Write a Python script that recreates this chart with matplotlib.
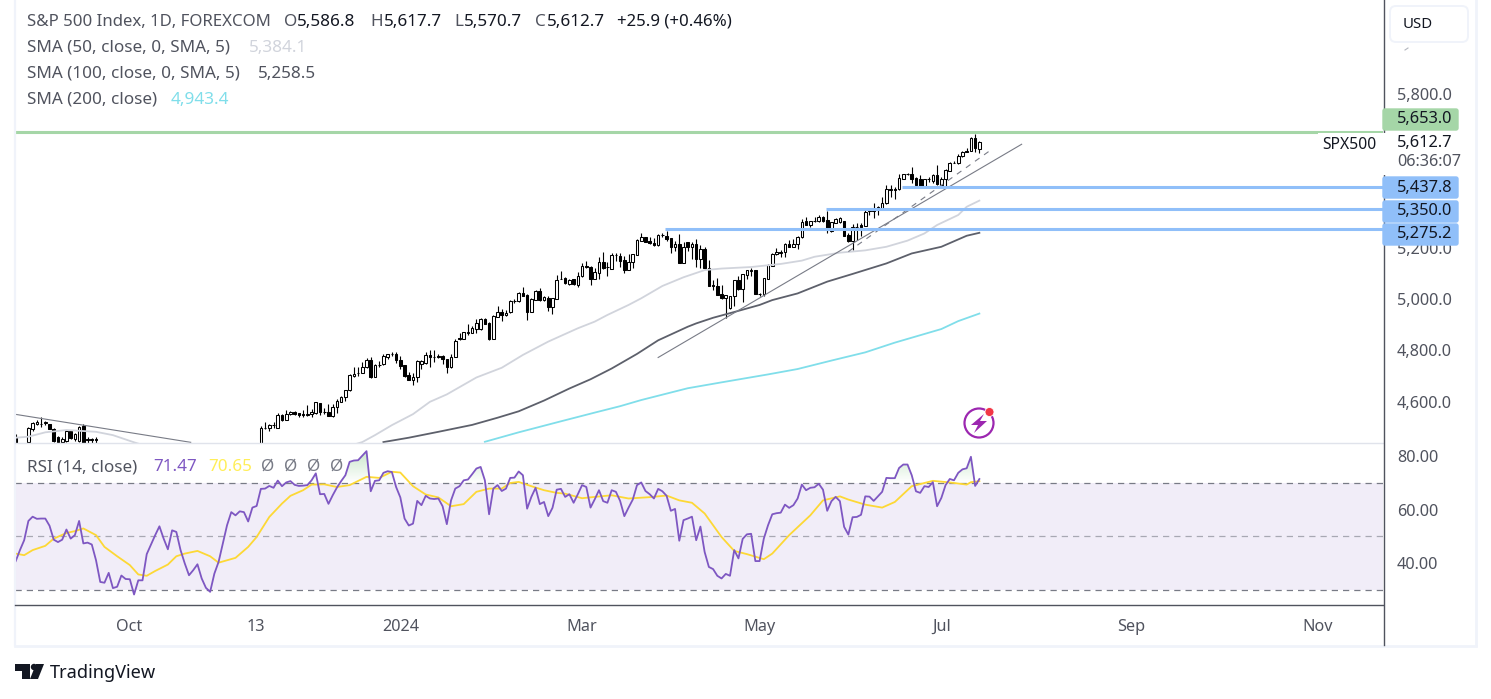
import numpy as np
import matplotlib
matplotlib.use("Agg")
import matplotlib.pyplot as plt
from matplotlib.lines import Line2D
from matplotlib.patches import Circle, FancyBboxPatch, Polygon, Rectangle
from matplotlib.path import Path
from matplotlib.transforms import Affine2D

plt.rcParams['font.family'] = ['Noto Sans', 'DejaVu Sans']

W, H = 1491, 699

# candles visible at the far left, the rest of that stretch is under the pane
left_bars = [0, 3, 4, 5, 6, 7, 8, 9, 10, 11, 12, 13, 14, 15, 16, 17, 18, 19]
left_open = [4459, 4440, 4489, 4507, 4507, 4514, 4507, 4489, 4456, 4440, 4442, 4481, 4450, 4442, 4502, 4449, 4449, 4449]
left_high = [4468, 4497, 4518, 4523, 4535, 4521, 4510, 4494, 4463, 4459, 4484, 4484, 4472, 4502, 4507, 4459, 4455, 4456]
left_low = [4420, 4425, 4481, 4505, 4497, 4505, 4488, 4437, 4437, 4436, 4440, 4450, 4442, 4440, 4427, 4429, 4429, 4429]
left_close = [4425, 4494, 4511, 4518, 4510, 4515, 4489, 4442, 4440, 4450, 4481, 4453, 4468, 4498, 4429, 4448, 4448, 4448]

# daily candles from mid Nov 2023 on
first_bar = 58
opens = [4433.5, 4492, 4491, 4504, 4491, 4543, 4526, 4547, 4556, 4552, 4547, 4545, 4547, 4553, 4589, 4557, 4557, 4540, 4574, 4596,
         4613, 4640, 4697, 4708, 4709, 4730, 4758, 4693, 4739, 4742, 4771, 4781, 4782, 4757, 4738, 4700, 4682, 4690, 4744, 4745,
         4777, 4770, 4773, 4774, 4761, 4729, 4771, 4843, 4842, 4865, 4864, 4881, 4878, 4918, 4903, 4842, 4927, 4946, 4933, 4944,
         4987, 4987, 5018, 5011, 4947, 4992, 5026, 4991, 5002, 4965, 4998, 5074, 5077, 5055, 5073, 5052, 5085, 5125, 5120, 5074,
         5099, 5142, 5120, 5115, 5167, 5163, 5147, 5111, 5142, 5169, 5224, 5238,
         5224, 5216, 5206, 5244, 5242, 5233, 5201, 5211, 5138, 5217, 5201, 5210, 5151, 5190, 5116, 5051, 5047, 5015, 5002, 4960,
         5006, 5069, 5037, 5091, 5107, 5108, 5016, 5016, 5076, 5126, 5171, 5177, 5179, 5210, 5201, 5211, 5237, 5299, 5284, 5301,
         5302, 5315, 5305, 5263, 5294, 5295, 5299, 5246, 5224, 5277, 5284, 5281, 5342, 5342, 5344, 5353, 5370, 5423, 5424, 5424,
         5465, 5483, 5484, 5467, 5463, 5438, 5465, 5457, 5480, 5442, 5463, 5497, 5527, 5526, 5553, 5575, 5574, 5623, 5586.8]
highs = [4502, 4518, 4509, 4515, 4552, 4547, 4562, 4558, 4558, 4553, 4564, 4582, 4567, 4593, 4589, 4569, 4587, 4587, 4605, 4618,
         4640, 4703, 4731, 4730, 4749, 4765, 4771, 4742, 4753, 4781, 4782, 4790, 4788, 4773, 4740, 4713, 4707, 4757, 4758, 4788,
         4796, 4797, 4782, 4777, 4762, 4781, 4840, 4865, 4869, 4899, 4892, 4920, 4922, 4922, 4907, 4934, 4969, 4956, 4953, 4992,
         4996, 5022, 5042, 5016, 4999, 5032, 5038, 5008, 5006, 5002, 5089, 5104, 5081, 5074, 5076, 5102, 5138, 5146, 5125, 5119,
         5159, 5181, 5142, 5175, 5175, 5177, 5164, 5172, 5172, 5229, 5252, 5240,
         5240, 5233, 5249, 5255, 5262, 5236, 5224, 5250, 5220, 5219, 5220, 5231, 5207, 5198, 5149, 5071, 5077, 5051, 5012, 5009,
         5071, 5087, 5093, 5110, 5116, 5110, 5021, 5080, 5134, 5175, 5194, 5188, 5216, 5227, 5231, 5242, 5307, 5318, 5301, 5318,
         5324, 5320, 5341, 5298, 5312, 5315, 5301, 5253, 5288, 5292, 5294, 5350, 5350, 5370, 5359, 5396, 5441, 5440, 5435, 5484,
         5484, 5487, 5511, 5471, 5480, 5466, 5474, 5483, 5519, 5471, 5502, 5531, 5533, 5562, 5575, 5584, 5627, 5640, 5617.7]
lows = [4420.5, 4489, 4483, 4494, 4491, 4522, 4524, 4544, 4544, 4537, 4534, 4540, 4537, 4549, 4544, 4547, 4540, 4537, 4553, 4593,
        4599, 4638, 4690, 4697, 4706, 4726, 4687, 4692, 4732, 4740, 4761, 4774, 4745, 4722, 4693, 4681, 4660, 4674, 4725, 4743,
        4732, 4751, 4765, 4743, 4709, 4727, 4770, 4836, 4840, 4856, 4862, 4865, 4875, 4899, 4838, 4842, 4925, 4912, 4930, 4943,
        4982, 4986, 5008, 4914, 4946, 4991, 4989, 4989, 4950, 4939, 4995, 5073, 5055, 5052, 5050, 5044, 5081, 5116, 5051, 5073,
        5074, 5112, 5087, 5112, 5146, 5122, 5099, 5110, 5119, 5167, 5223, 5219,
        5211, 5203, 5204, 5240, 5224, 5177, 5184, 5138, 5138, 5185, 5154, 5123, 5116, 5114, 5047, 5032, 5011, 4996, 4921, 4957,
        4970, 5032, 4986, 5073, 5086, 5017, 5006, 5008, 5074, 5125, 5169, 5159, 5162, 5199, 5199, 5190, 5236, 5284, 5279, 5298,
        5298, 5298, 5253, 5256, 5292, 5292, 5242, 5220, 5188, 5227, 5243, 5281, 5324, 5314, 5324, 5350, 5368, 5396, 5387, 5423,
        5463, 5480, 5448, 5440, 5437, 5437, 5454, 5448, 5441, 5440, 5435, 5496, 5526, 5524, 5552, 5568, 5572, 5570, 5570.7]
closes = [4492, 4493, 4506, 4505, 4544, 4525, 4547, 4554, 4547, 4543, 4545, 4547, 4556, 4593, 4557, 4556, 4541, 4574, 4597, 4614,
          4640, 4699, 4705, 4709, 4730, 4758, 4692, 4739, 4740, 4774, 4781, 4782, 4757, 4736, 4697, 4682, 4690, 4755, 4755, 4778,
          4769, 4769, 4771, 4761, 4729, 4771, 4833, 4839, 4866, 4866, 4882, 4901, 4917, 4900, 4839, 4930, 4944, 4933, 4943, 4989,
          4989, 5020, 5009, 4947, 4995, 5028, 4991, 5003, 4965, 4999, 5072, 5076, 5057, 5072, 5054, 5085, 5125, 5120, 5074, 5100,
          5142, 5119, 5121, 5167, 5168, 5145, 5110, 5142, 5172, 5225, 5237, 5220,
          5214, 5205, 5247, 5245, 5231, 5201, 5210, 5138, 5199, 5199, 5211, 5151, 5190, 5116, 5048, 5046, 5013, 5000, 5010, 5007,
          5069, 5037, 5093, 5108, 5108, 5017, 5017, 5077, 5128, 5171, 5179, 5179, 5210, 5201, 5212, 5237, 5298, 5285, 5299, 5302,
          5316, 5301, 5266, 5295, 5310, 5314, 5243, 5224, 5279, 5279, 5279, 5337, 5341, 5341, 5354, 5370, 5424, 5424, 5423, 5467,
          5483, 5484, 5466, 5442, 5438, 5463, 5463, 5479, 5444, 5465, 5498, 5527, 5528, 5554, 5570, 5570, 5623, 5587, 5612.7]

sma50_bars = [0, 3, 7, 12, 19, 23, 28, 55, 82, 85, 89, 94, 98, 102, 109, 115, 120, 126, 133, 137, 140, 145, 148, 153, 158, 163, 167,
              174, 181, 186, 189, 195, 201, 206, 211, 215, 218, 223, 225, 228]
sma50_vals = [4455, 4459, 4476, 4485, 4478, 4465, 4437, 4300, 4438, 4465, 4504, 4547, 4595, 4624, 4690, 4728, 4778, 4830, 4882, 4908,
              4934, 4973, 4999, 5047, 5081, 5109, 5115, 5121, 5133, 5146, 5161, 5177, 5186, 5200, 5224, 5252, 5285, 5324, 5356, 5384.1]
sma100_bars = [87, 93, 100, 108, 114, 119, 125, 131, 136, 141, 147, 152, 159, 161, 165, 171, 176, 179, 185, 192, 198, 206, 212, 219, 225, 228]
sma100_vals = [4438, 4455, 4478, 4505, 4533, 4558, 4600, 4647, 4683, 4725, 4782, 4835, 4888, 4901, 4923, 4950, 4973, 4992, 5018, 5064,
               5094, 5135, 5174, 5200, 5243, 5258.5]
sma200_bars = [111, 119, 129, 137, 143, 148, 159, 167, 178, 185, 193, 201, 208, 219, 223, 228]
sma200_vals = [4439, 4476, 4519, 4553, 4578, 4602, 4648, 4671, 4702, 4723, 4756, 4788, 4826, 4879, 4910, 4943.4]

rsi_vals = [40.8, 44.9, 48.6, 55.8, 57.4, 56.6, 56.7, 56.7, 54.0, 48.8, 47.9, 48.8, 52.6, 49.2, 50.5, 55.8, 47.4, 47.7, 47.0, 41.1,
            33.0, 32.7, 36.4, 30.7, 31.2, 35.4, 34.1, 34.0, 28.3, 33.6, 33.6, 43.4, 47.0, 50.5, 53.8, 49.2, 45.2, 52.3, 51.7, 44.9,
            39.9, 35.5, 37.4, 39.6, 34.3, 30.8, 29.3, 36.1, 40.5, 47.4, 54.2, 59.1, 57.9, 59.4, 59.1, 55.6, 60.8, 61.4, 67.8, 67.9,
            68.9, 68.2, 70.9, 68.8, 70.2, 70.7, 69.3, 68.9, 69.0, 69.2, 71.0, 73.6, 65.8, 65.9, 62.2, 65.4, 68.3, 70.7, 72.9, 77.9,
            78.4, 78.5, 80.2, 81.9, 66.9, 70.8, 71.0, 73.8, 74.4, 74.1, 68.5, 64.6, 56.7, 54.1, 54.8, 63.3, 61.7, 65.2, 64.2, 64.0,
            64.2, 61.3, 54.6, 63.5, 67.9, 68.8, 71.0, 71.3, 73.3, 75.4, 76.0, 71.0, 58.3, 67.9, 69.2,
            67.0, 67.9, 71.9, 72.0, 74.3, 72.9, 60.4, 64.8, 68.2, 62.1, 62.9, 57.6, 60.7, 67.5, 67.8, 64.8, 65.8, 62.6, 65.8, 69.2,
            68.5, 60.8, 63.9, 67.3, 63.2, 62.6, 67.3, 66.7, 63.3, 57.6, 60.8, 63.8, 69.2, 70.2, 67.0, 65.8, 64.2, 67.8, 66.9, 65.2,
            59.6, 60.3, 48.4, 56.1, 56.7, 57.4, 48.6, 53.7, 44.2, 38.6, 37.8, 35.3, 34.3, 36.0, 35.3, 44.9, 41.8, 49.1, 50.8, 51.0,
            40.8, 40.8, 49.2, 54.2, 58.3, 58.7, 58.9, 61.9, 60.7, 61.7, 64.2, 69.4, 67.3, 68.2, 68.4, 69.7, 67.5, 59.6, 63.2, 64.8,
            63.2, 53.6, 50.7, 57.2, 57.3, 58.1, 65.0, 64.9, 63.3, 65.0, 66.7, 71.9, 71.8, 71.8, 75.6, 76.9, 76.9, 72.9, 66.9, 66.3,
            68.8, 68.5, 70.3, 61.3, 64.4, 69.2, 71.5, 71.0, 73.8, 75.1, 75.5, 79.8, 68.9, 71.47]
rsi_ma_bars = [0, 2, 4, 7, 9, 12, 14, 16, 19, 21, 24, 27, 29, 31, 33, 36, 38, 40, 43, 46, 48, 52, 55, 57, 60, 63, 65, 68, 70, 73, 76, 79,
               83, 86, 89, 91, 94, 97, 100, 103, 106, 109, 112, 115, 117, 119, 122, 125, 128, 130, 134, 137, 141, 145, 150, 154, 157,
               160, 163, 167, 170, 173, 177, 179, 183, 188, 191, 195, 197, 201, 205, 208, 212, 217, 221, 225, 226, 228]
rsi_ma_vals = [43.6, 43.0, 44.9, 46.5, 49.2, 51.3, 52.0, 53.0, 50.5, 46.1, 42.6, 39.3, 35.8, 35.3, 37.1, 39.5, 42.6, 43.6, 44.6, 42.6,
               40.2, 42.0, 46.1, 49.8, 57.3, 62.3, 65.2, 67.3, 69.4, 69.5, 68.5, 69.2, 72.3, 71.9, 74.2, 73.9, 68.8, 65.7, 64.6, 61.3,
               62.1, 66.7, 67.9, 67.9, 70.0, 70.4, 68.8, 67.3, 66.3, 66.0, 64.3, 64.8, 65.4, 64.2, 64.7, 65.3, 63.5, 62.6, 58.6, 49.8,
               44.6, 43.4, 41.5, 43.6, 50.5, 57.9, 63.5, 65.0, 63.8, 61.9, 60.8, 62.9, 68.8, 70.8, 70.2, 69.4, 70.3, 70.65]

level_prices = [5437.8, 5350.0, 5275.2]
level_starts = [209.6, 191.7, 153.6]
resistance = 5653.0

# trend lines as (bar, price) ends
trend_down = ([0, 41.4], [4546, 4437])
trend_up = ([152, 238], [4768, 5600])
trend_dash = ([197, 231], [5181, 5581])

month_ticks = [26.8, 56.9, 91, 134, 176, 219, 264, 308]
month_labels = ['Oct', '13', '2024', 'Mar', 'May', 'Jul', 'Sep', 'Nov']
price_ticks = [4600, 4800, 5000, 5200, 5800]
rsi_ticks = [40, 60, 80]

GREY = '#50535e'
DARK = '#131722'
BLUE = '#90bff9'
GREEN = '#a5d6a7'
PANE = '#e0e3eb'
XLIM = (-0.17, 323.5)
AXIS_SIZE = 11.7
LEGEND_SIZE = 12.3
# values above were read against the label centres, which sit about 1px above the true level
READ_SHIFT = 4

# pixel coordinates, origin top left, for the furniture around the panes
px = Affine2D().scale(1, -1).translate(0, H)

fig = plt.figure(figsize=(W / 100, H / 100), dpi=100, facecolor='white')
ax = fig.add_axes([15 / W, 1 - 442.5 / H, 1368 / W, 442.5 / H])
ax_rsi = fig.add_axes([15 / W, 1 - 604 / H, 1368 / W, 161 / H])


def label(x, y, s, color=GREY, size=LEGEND_SIZE, ha='left', z=8, **kw):
    fig.text(x, y, s, color=color, fontsize=size, ha=ha, va='center', transform=px, zorder=z, **kw)


def shifted(vals, exact_last=True):
    # the last value of a series comes from the legend, so it stays as it is
    out = np.array(vals, dtype=float) + READ_SHIFT
    if exact_last:
        out[-1] = vals[-1]
    return out


def draw_candles(bars, o, h, l, c):
    ax.vlines(bars, l, h, color='black', lw=0.8, zorder=3)
    faces = ['white' if b >= a else 'black' for a, b in zip(o, c)]
    ax.bar(bars, np.abs(c - o), bottom=np.minimum(o, c), width=0.62, color=faces,
           edgecolor='black', linewidth=0.75, zorder=4)


# price pane
draw_candles(left_bars, *[shifted(v, False) for v in (left_open, left_high, left_low, left_close)])
draw_candles(np.arange(first_bar, first_bar + len(opens)), *[shifted(v) for v in (opens, highs, lows, closes)])
ax.plot(sma50_bars, shifted(sma50_vals), color='#d1d4dc', lw=1.3, zorder=5)
ax.plot(sma100_bars, shifted(sma100_vals), color='#5d606b', lw=1.3, zorder=5)
ax.plot(sma200_bars, shifted(sma200_vals), color='#80deea', lw=1.3, zorder=5)
ax.plot(trend_down[0], shifted(trend_down[1], False), color='#787b86', lw=0.8, zorder=5)
ax.plot(trend_up[0], shifted(trend_up[1], False), color='#787b86', lw=0.8, zorder=5)
ax.plot(trend_dash[0], shifted(trend_dash[1], False), color='#787b86', lw=0.8, ls=(0, (5, 5)), zorder=5)
ax.axhline(resistance, color=GREEN, lw=2.2, zorder=6)
for level, start in zip(level_prices, level_starts):
    ax.hlines(level, start, XLIM[1], color=BLUE, lw=2.2, zorder=6)
ax.set_xlim(*XLIM)
ax.set_ylim(4440.3, 6166.9)
ax.yaxis.tick_right()
ax.set_yticks(price_ticks)
ax.set_yticklabels([f'{t:,.1f}' for t in price_ticks], color=GREY, fontsize=AXIS_SIZE)
ax.tick_params(axis='y', length=0, pad=10)
ax.set_xticks([])

# rsi pane
bars = np.arange(len(rsi_vals))
ax_rsi.axhspan(30, 70, color='#7e57c2', alpha=0.1, lw=0)
ax_rsi.axhline(70, color='#787b86', lw=0.9, ls=(0, (5, 4)))
ax_rsi.axhline(50, color='#787b86', lw=0.9, ls=(0, (5, 4)), alpha=0.6)
ax_rsi.axhline(30, color='#787b86', lw=0.9, ls=(0, (5, 4)))
over = ax_rsi.fill_between(bars, 70, rsi_vals, where=np.array(rsi_vals) > 70, interpolate=True, facecolor='none', lw=0)
shade = np.zeros((64, 2, 4))
shade[..., :3] = matplotlib.colors.to_rgb('#4caf50')
shade[..., 3] = np.linspace(0.32, 0, 64)[:, None]
im = ax_rsi.imshow(shade, extent=(bars[0], bars[-1], 70, 83), aspect='auto', origin='upper', zorder=2)
im.set_clip_path(Path.make_compound_path(*over.get_paths()), transform=ax_rsi.transData)
ax_rsi.plot(rsi_ma_bars, rsi_ma_vals, color='#fdd835', lw=1.3, zorder=3)
ax_rsi.plot(bars, rsi_vals, color='#7e57c2', lw=1.3, zorder=4)
ax_rsi.set_xlim(*XLIM)
ax_rsi.set_ylim(24.75, 84.95)
ax_rsi.yaxis.tick_right()
ax_rsi.set_yticks(rsi_ticks)
ax_rsi.set_yticklabels([f'{t:.2f}' for t in rsi_ticks], color=GREY, fontsize=AXIS_SIZE)
ax_rsi.tick_params(axis='y', length=0, pad=10)
ax_rsi.set_xticks(month_ticks)
ax_rsi.set_xticklabels(month_labels, color=GREY, fontsize=AXIS_SIZE)
ax_rsi.tick_params(axis='x', length=0, pad=10.5)
ax_rsi.get_xticklabels()[2].set_fontweight('bold')

for a in (ax, ax_rsi):
    for s in a.spines.values():
        s.set_visible(False)

# frame and separators
for xs, ys, col, lw in [((15, 15), (0, 645), '#f0f3fa', 1.6), ((1476, 1476), (0, 645), '#f0f3fa', 2.0),
                        ((15, 1476), (645.5, 645.5), '#f0f3fa', 2.0), ((15, 1383), (442.5, 442.5), PANE, 1.0),
                        ((15, 1383), (604.5, 604.5), GREY, 1.0), ((1383.5, 1383.5), (0, 645), GREY, 1.0),
                        ((1405, 1408), (50, 48), '#b2b5be', 0.8)]:
    fig.add_artist(Line2D(xs, ys, color=col, lw=lw, transform=px, zorder=3))

# tags on the price scale
fig.add_artist(Rectangle((1318, 132.5), 66, 22, fc='white', ec='none', transform=px, zorder=6))
fig.add_artist(Rectangle((1381, 132.5), 80, 42, fc='white', ec='none', transform=px, zorder=6))
label(1349, 145, 'SPX500', DARK, size=11.3, ha='center')
label(1397, 143, '5,612.7', DARK, size=11.8)
label(1397, 162, '06:36:07', GREY, size=AXIS_SIZE)
for (y0, y1, col, txt, ty) in [(108, 131, GREEN, '5,653.0', 119), (176, 199, BLUE, '5,437.8', 188),
                               (200, 223, BLUE, '5,350.0', 211), (223, 246, BLUE, '5,275.2', 234)]:
    fig.add_artist(FancyBboxPatch((1383, y0 + 1), 75, y1 - y0 - 2, boxstyle='round,pad=0,rounding_size=2', fc=col, ec=col,
                                  lw=1, transform=px, zorder=7))
    label(1397, ty, txt, DARK, size=11.8)

fig.add_artist(FancyBboxPatch((1390, 6), 78, 36, boxstyle='round,pad=0,rounding_size=6', fc='white', ec='#f0f3fa', lw=1.4,
                              transform=px, zorder=7))
label(1403, 25, 'USD', DARK, size=10.8)

# legend rows
label(27, 22, 'S&P 500 Index, 1D, FOREXCOM', size=12.1)
for x, head, val in [(284, 'O', '5,586.8'), (370, 'H', '5,617.7'), (454, 'L', '5,570.7'), (535, 'C', '5,612.7')]:
    label(x, 22, head)
    label(x + {'O': 13, 'H': 14, 'L': 10, 'C': 12}[head], 22, val, DARK)
label(617, 22, '+25.9 (+0.46%)', DARK, size=12.1)
label(27, 48, 'SMA (50, close, 0, SMA, 5)')
label(249, 48, '5,384.1', '#d1d4dc')
label(27, 74, 'SMA (100, close, 0, SMA, 5)')
label(258, 74, '5,258.5', GREY)
label(27, 100, 'SMA (200, close)')
label(171, 100, '4,943.4', '#80deea')
label(27, 467, 'RSI (14, close)')
label(153, 467, '71.47', '#7e57c2')
label(208, 467, '70.65', '#ffee58')
for x in [268, 291, 314, 337]:
    label(x, 467, 'Ø', '#787b86', ha='center')

# flash icon
fig.add_artist(Circle((979, 423), 14.5, fc='white', ec='#9c27b0', lw=1.6, transform=px, zorder=7))
fig.add_artist(Polygon([(984, 414), (971, 425), (978, 425), (974, 433), (987, 421), (980, 421)], fc='#9c27b0', ec='none',
                       transform=px, zorder=8))
fig.add_artist(Circle((989.5, 412), 4.5, fc='#f23645', ec='white', lw=0.6, transform=px, zorder=9))

# TradingView logo
for pts in [[(15, 664), (30, 664), (30, 679), (22, 679), (22, 671), (15, 671)],
            [(44, 664), (38, 679), (30, 679), (36, 664)]]:
    fig.add_artist(Polygon(pts, fc=DARK, ec='none', transform=px, zorder=8))
fig.add_artist(Circle((34, 667), 3.2, fc=DARK, ec='none', transform=px, zorder=8))
label(50, 673, 'TradingView', DARK, size=13.1)

fig.savefig('out.png', dpi=100)
